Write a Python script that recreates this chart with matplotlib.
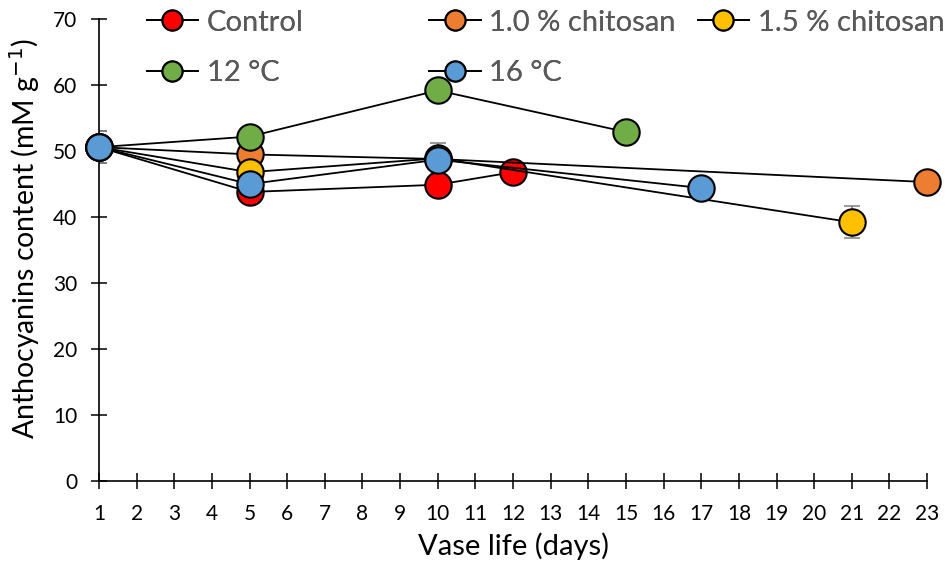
import numpy as np
import matplotlib.pyplot as plt

plt.rcParams['font.family'] = ['Lato', 'DejaVu Sans']

# Data
days_control = [1, 5, 10, 12]
val_control = [50.6, 43.8, 44.9, 46.8]
err_control = [2.4, 0.8, 0.8, 0.8]

days_ch10 = [1, 5, 10, 23]
val_ch10 = [50.6, 49.5, 48.8, 45.3]
err_ch10 = [2.4, 0.8, 1.0, 0.8]

days_ch15 = [1, 5, 10, 21]
val_ch15 = [50.6, 46.8, 48.9, 39.2]
err_ch15 = [2.4, 0.8, 2.4, 2.4]

days_12c = [1, 5, 10, 15]
val_12c = [50.6, 52.2, 59.2, 52.9]
err_12c = [2.4, 0.8, 0.8, 0.8]

days_16c = [1, 5, 10, 17]
val_16c = [50.6, 45.0, 48.7, 44.4]
err_16c = [2.4, 0.8, 0.8, 0.8]

series = [
    ("Control", days_control, val_control, err_control, "#FF0000"),
    ("1.0 % chitosan", days_ch10, val_ch10, err_ch10, "#ED7D31"),
    ("1.5 % chitosan", days_ch15, val_ch15, err_ch15, "#FFC000"),
    ("12 °C", days_12c, val_12c, err_12c, "#70AD47"),
    ("16 °C", days_16c, val_16c, err_16c, "#5B9BD5"),
]

fig = plt.figure(figsize=(9.47, 5.65), dpi=100)
ax = fig.add_axes([0.1045, 0.149, 0.8745, 0.817])

handles = []
for i, (name, x, y, e, c) in enumerate(series):
    ax.errorbar(x, y, yerr=e, fmt='none', ecolor='#7f7f7f', elinewidth=1.1,
                capsize=6, capthick=1.1, zorder=2 + i * 0.1)
    h, = ax.plot(x, y, '-o', color='black', lw=1.3, markerfacecolor=c,
                 markeredgecolor='black', markeredgewidth=1.5, markersize=19,
                 label=name, zorder=3 + i * 0.1, clip_on=False)
    handles.append(h)

ax.set_xlim(1, 23)
ax.set_ylim(0, 70)
ax.set_xticks(np.arange(1, 24))
ax.set_yticks(np.arange(0, 71, 10))
ax.spines['top'].set_visible(False)
ax.spines['right'].set_visible(False)
ax.spines['left'].set_linewidth(1.2)
ax.spines['bottom'].set_linewidth(1.2)
ax.tick_params(axis='both', direction='inout', length=11, width=1.1,
               labelsize=15, colors='black')
ax.tick_params(axis='x', pad=11)
ax.tick_params(axis='y', pad=10)
ax.set_xlabel("Vase life (days)", fontsize=21, va='center')
ax.xaxis.set_label_coords(0.5, -0.1407)
ax.set_ylabel("Anthocyanins content (mM g$^{-1}$)", fontsize=20.5, va='center')
ax.yaxis.set_label_coords(-0.0894, 0.526)

# legend entries laid out row-wise, as in the reference
leg_pos = [(0.155, 0.960), (0.4535, 0.960), (0.737, 0.960),
           (0.155, 0.870), (0.4535, 0.870)]
for h, (lx, ly) in zip(handles, leg_pos):
    leg = fig.legend(handles=[h], loc='center left', bbox_to_anchor=(lx, ly),
                     frameon=False, fontsize=21, markerscale=0.76,
                     handlelength=1.75, handletextpad=0.3, borderpad=0,
                     borderaxespad=0, labelcolor='#595959')
    fig.add_artist(leg)

fig.savefig("out.png", dpi=100)
